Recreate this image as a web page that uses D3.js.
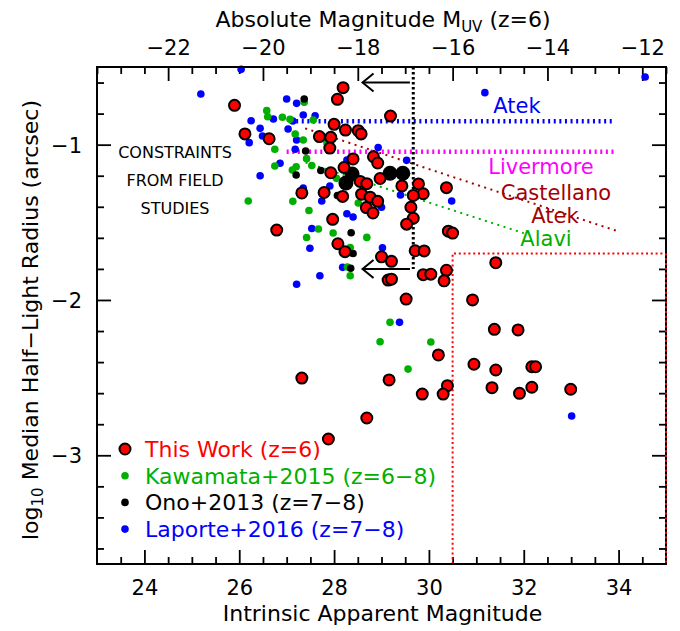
<!DOCTYPE html>
<html><head><meta charset="utf-8">
<script src="https://cdn.jsdelivr.net/npm/d3@7"></script>
<style>
body{margin:0;background:#fff}
svg{display:block}
text{font-family:"DejaVu Sans",sans-serif}
</style>
</head><body>
<svg id="c" width="680" height="631"></svg>
<script>
// ---------------- data ----------------
const xMajorTicks = [24, 26, 28, 30, 32, 34];
const topMajorTicks = [-22, -20, -18, -16, -14, -12];
const yMajorTicks = [-1, -2, -3];

const thisWork = [
[28.19,-0.633],[28.07,-0.708],[25.90,-0.747],[29.19,-0.816],[28.00,-0.869],[28.24,-0.906],[28.51,-0.910],[28.57,-0.931],
[26.12,-0.931],[26.63,-0.962],[27.69,-0.948],[27.93,-0.953],[27.91,-1.022],[28.40,-1.092],[28.83,-1.078],[28.92,-1.118],
[28.21,-1.147],[27.93,-1.181],[28.97,-1.218],[28.55,-1.237],[28.69,-1.251],[29.43,-1.266],[29.78,-1.253],[29.88,-1.316],
[29.67,-1.327],[30.37,-1.277],[27.32,-1.311],[27.79,-1.308],[28.18,-1.333],[28.58,-1.319],[28.76,-1.338],[28.92,-1.365],
[28.68,-1.405],[28.82,-1.440],[29.62,-1.403],[29.67,-1.474],[29.53,-1.512],[27.97,-1.481],[30.41,-1.557],[30.50,-1.569],
[26.79,-1.550],[28.08,-1.638],[28.23,-1.689],[29.00,-1.722],[29.21,-1.751],[29.71,-1.683],[29.90,-1.684],[30.37,-1.809],
[29.88,-1.837],[30.04,-1.834],[30.32,-1.877],[29.14,-1.872],[29.21,-1.866],[31.41,-1.760],[29.52,-1.994],[30.92,-2.000],
[31.38,-2.189],[31.88,-2.193],[30.20,-2.354],[30.95,-2.414],[31.41,-2.451],[32.17,-2.430],[32.25,-2.430],[29.16,-2.515],
[30.39,-2.552],[29.86,-2.606],[30.30,-2.606],[31.33,-2.565],[31.91,-2.601],[32.17,-2.562],[32.99,-2.575],[27.32,-2.503],
[27.88,-2.895],[28.69,-2.760]
];
const kawamata = [
[27.37,-0.727],[26.58,-0.781],[26.60,-0.820],[26.91,-0.824],[27.07,-0.837],[27.56,-0.841],[27.18,-0.931],[27.35,-0.970],
[26.75,-1.030],[27.42,-1.090],[26.75,-1.137],[27.20,-1.142],[27.12,-1.163],[27.53,-1.134],[28.05,-1.217],[26.19,-1.363],
[27.13,-1.365],[27.47,-1.424],[28.51,-1.376],[27.67,-1.543],[27.98,-1.569],[27.42,-1.598],[28.34,-1.662],[28.69,-1.597],
[28.34,-1.844],[28.28,-1.788],[29.18,-2.144],[28.97,-2.269],[30.04,-2.271],[29.56,-2.445],[27.85,-0.989]
];
const onoSingle = [
[27.37,-0.706],[27.40,-1.041],[27.72,-1.166],[27.20,-1.195],[28.07,-1.327],[28.36,-1.567],[28.40,-1.701],[28.35,-1.796]
];
const onoStack = [
[28.38,-1.189],[28.25,-1.247],[29.18,-1.184],[29.45,-1.184]
];
const laporte = [
[26.04,-0.515],[34.56,-0.564],[25.19,-0.674],[27.00,-0.706],[27.21,-0.734],[31.18,-0.665],[26.25,-0.846],[26.72,-0.835],
[26.44,-0.895],[26.21,-0.987],[26.49,-0.944],[27.03,-0.899],[27.13,-0.848],[27.35,-0.809],[27.60,-0.814],[27.21,-0.970],
[27.18,-1.030],[26.86,-1.120],[26.44,-1.200],[27.35,-1.279],[27.74,-1.363],[27.91,-1.266],[28.27,-1.099],[28.93,-1.018],
[29.53,-1.101],[29.40,-1.324],[28.27,-1.445],[28.40,-1.466],[29.00,-1.403],[27.53,-1.540],[27.49,-1.667],[29.02,-1.664],
[30.48,-1.363],[27.70,-1.844],[27.21,-1.899],[28.18,-1.790],[29.38,-2.144],[33.01,-2.747]
];

// field-study constraint lines
const atekLine = [[27.2,-0.85],[33.9,-0.85]];
const livermoreLine = [[27.0,-1.045],[33.9,-1.045]];
const castellanoLine = [[27.39,-0.895],[33.96,-1.555]];
const alaviLine = [[27.4,-1.115],[32.0,-1.57]];
const fieldLimit = [[29.67,-0.5],[29.67,-1.8]];
const arrowRows = [-0.6, -1.8];
const arrowFrom = 29.6, arrowTo = 28.6;
const boxLine = [[30.5,-3.7],[30.5,-1.7],[35,-1.7],[35,-3.7]];

const legendItems = [
  {label:"This Work (z=6)", color:"#ff0000", kind:"red"},
  {label:"Kawamata+2015 (z=6\u22128)", color:"#00b000", kind:"dot"},
  {label:"Ono+2013 (z=7\u22128)", color:"#000000", kind:"dot"},
  {label:"Laporte+2016 (z=7\u22128)", color:"#0000ff", kind:"dot"}
];

// ---------------- chart ----------------
const L = 97, R = 666, T = 67, B = 564;
const svg = d3.select("#c");
const x = d3.scaleLinear().domain([23, 35]).range([L, R]);
const xTop = d3.scaleLinear().domain([-23.5, -11.5]).range([L, R]);
const y = d3.scaleLinear().domain([-0.5, -3.7]).range([T, B]);

const xMinor = d3.range(23.5, 35, 0.5).filter(v => !xMajorTicks.includes(v));
const topMinor = d3.range(-23.5, -11.4, 0.5).filter(v => !topMajorTicks.includes(Math.round(v*10)/10));
const yMinor = d3.range(-0.6, -3.71, -0.2).map(v => Math.round(v*10)/10).filter(v => !yMajorTicks.includes(v));

const fmt = d => d3.format("d")(d);

function styleAxis(g){
  g.select(".domain").remove();
  g.selectAll(".tick line").attr("stroke","#000").attr("stroke-width",1.8);
  g.selectAll("text").attr("font-size",21).attr("fill","#000");
}
// bottom
svg.append("g").attr("transform",`translate(0,${B})`)
  .call(d3.axisBottom(x).tickValues(xMajorTicks).tickSize(-14).tickFormat(fmt))
  .call(styleAxis).call(g=>g.selectAll("text").attr("y",31).attr("dy",0));
svg.append("g").attr("transform",`translate(0,${B})`)
  .call(d3.axisBottom(x).tickValues(xMinor).tickSize(-7).tickFormat(""))
  .call(styleAxis);
// top
svg.append("g").attr("transform",`translate(0,${T})`)
  .call(d3.axisTop(xTop).tickValues(topMajorTicks).tickSize(-14).tickFormat(fmt))
  .call(styleAxis).call(g=>g.selectAll("text").attr("y",-12).attr("dy",0));
svg.append("g").attr("transform",`translate(0,${T})`)
  .call(d3.axisTop(xTop).tickValues(topMinor).tickSize(-7).tickFormat(""))
  .call(styleAxis);
// left
svg.append("g").attr("transform",`translate(${L},0)`)
  .call(d3.axisLeft(y).tickValues(yMajorTicks).tickSize(-14).tickFormat(fmt))
  .call(styleAxis).call(g=>g.selectAll("text").attr("x",-15).attr("dy","0.36em"));
svg.append("g").attr("transform",`translate(${L},0)`)
  .call(d3.axisLeft(y).tickValues(yMinor).tickSize(-7).tickFormat(""))
  .call(styleAxis);
// right
svg.append("g").attr("transform",`translate(${R},0)`)
  .call(d3.axisRight(y).tickValues(yMajorTicks).tickSize(-14).tickFormat(""))
  .call(styleAxis);
svg.append("g").attr("transform",`translate(${R},0)`)
  .call(d3.axisRight(y).tickValues(yMinor).tickSize(-7).tickFormat(""))
  .call(styleAxis);

// titles
svg.append("text").attr("x",(L+R)/2+1).attr("y",621).attr("text-anchor","middle")
  .attr("font-size",22).text("Intrinsic Apparent Magnitude");
const tt = svg.append("text").attr("x",383).attr("y",27).attr("text-anchor","middle").attr("font-size",22);
tt.append("tspan").text("Absolute Magnitude M");
tt.append("tspan").attr("font-size",15).attr("dy",5).text("UV");
tt.append("tspan").attr("dy",-5).text(" (z=6)");
const yt = svg.append("text").attr("transform","translate(38,320) rotate(-90)")
  .attr("text-anchor","middle").attr("font-size",22);
yt.append("tspan").text("log");
yt.append("tspan").attr("font-size",15).attr("dy",5).text("10");
yt.append("tspan").attr("dy",-5).text(" Median Half\u2212Light Radius (arcsec)");

const line = d3.line().x(d=>x(d[0])).y(d=>y(d[1]));

// constraint lines
svg.append("path").attr("d",line(atekLine)).attr("fill","none").attr("stroke","#0000ff")
  .attr("stroke-width",4.5).attr("stroke-dasharray","2,3.6");
svg.append("path").attr("d",line(livermoreLine)).attr("fill","none").attr("stroke","#ff00ff")
  .attr("stroke-width",4.5).attr("stroke-dasharray","2,3.6");
svg.append("path").attr("d",line(castellanoLine)).attr("fill","none").attr("stroke","#a50000")
  .attr("stroke-width",2).attr("stroke-dasharray","2,4.5");
svg.append("path").attr("d",line(alaviLine)).attr("fill","none").attr("stroke","#00b000")
  .attr("stroke-width",2).attr("stroke-dasharray","2,4.5");
svg.append("path").attr("d",line(boxLine)).attr("fill","none").attr("stroke","#ff0000")
  .attr("stroke-width",2).attr("stroke-dasharray","2,2.8");
svg.append("path").attr("d",line(fieldLimit)).attr("fill","none").attr("stroke","#000")
  .attr("stroke-width",3).attr("stroke-dasharray","2.5,2.5");

// arrows
arrowRows.forEach(r=>{
  const g = svg.append("g").attr("stroke","#000").attr("stroke-width",2).attr("fill","none");
  g.append("line").attr("x1",x(arrowFrom)).attr("x2",x(arrowTo)).attr("y1",y(r)).attr("y2",y(r));
  g.append("path").attr("d",`M${x(arrowTo)+11},${y(r)-9}L${x(arrowTo)},${y(r)}L${x(arrowTo)+11},${y(r)+9}`);
});

// constraint labels
const lab = (t,px,py,c)=>svg.append("text").attr("x",px).attr("y",py).attr("dy","0.36em")
  .attr("text-anchor","middle").attr("font-size",21).attr("fill",c).text(t);
lab("Atek",517,105,"#0000ff");
lab("Livermore",541,166,"#ff00ff");
lab("Castellano",556,192,"#a50000");
lab("Atek",555,215,"#a50000");
lab("Alavi",546,238,"#00b000");

["CONSTRAINTS","FROM FIELD","STUDIES"].forEach((t,i)=>{
  svg.append("text").attr("x",175).attr("y",152+28*i).attr("dy","0.36em").attr("text-anchor","middle")
    .attr("font-size",16).attr("fill","#000").text(t);
});

// points
const dots = (data,color,r)=>svg.append("g").selectAll("circle").data(data).join("circle")
  .attr("cx",d=>x(d[0])).attr("cy",d=>y(d[1])).attr("r",r).attr("fill",color);
dots(laporte,"#0000ff",3.8);
dots(kawamata,"#00b000",3.8);
dots(onoSingle,"#000",3.8);
dots(onoStack,"#000",7.5);
svg.append("g").selectAll("circle").data(thisWork).join("circle")
  .attr("cx",d=>x(d[0])).attr("cy",d=>y(d[1])).attr("r",5.5)
  .attr("fill","#ff0000").attr("stroke","#000").attr("stroke-width",2);

// frame
svg.append("rect").attr("x",L).attr("y",T).attr("width",R-L).attr("height",B-T)
  .attr("fill","none").attr("stroke","#000").attr("stroke-width",2);
svg.append("line").attr("x1",R).attr("x2",R).attr("y1",y(-1.7)).attr("y2",B)
  .attr("stroke","#ff0000").attr("stroke-width",2).attr("stroke-dasharray","2,2.8");

// legend
const lg = svg.append("g");
legendItems.forEach((it,i)=>{
  const cy = 449 + 26.7*i;
  if(it.kind==="red"){
    lg.append("circle").attr("cx",125).attr("cy",cy).attr("r",5.5).attr("fill",it.color)
      .attr("stroke","#000").attr("stroke-width",2);
  } else {
    lg.append("circle").attr("cx",125).attr("cy",cy).attr("r",3.8).attr("fill",it.color);
  }
  lg.append("text").attr("x",145).attr("y",cy).attr("dy","0.36em").attr("font-size",22)
    .attr("fill",it.color).text(it.label);
});
</script>
</body></html>
